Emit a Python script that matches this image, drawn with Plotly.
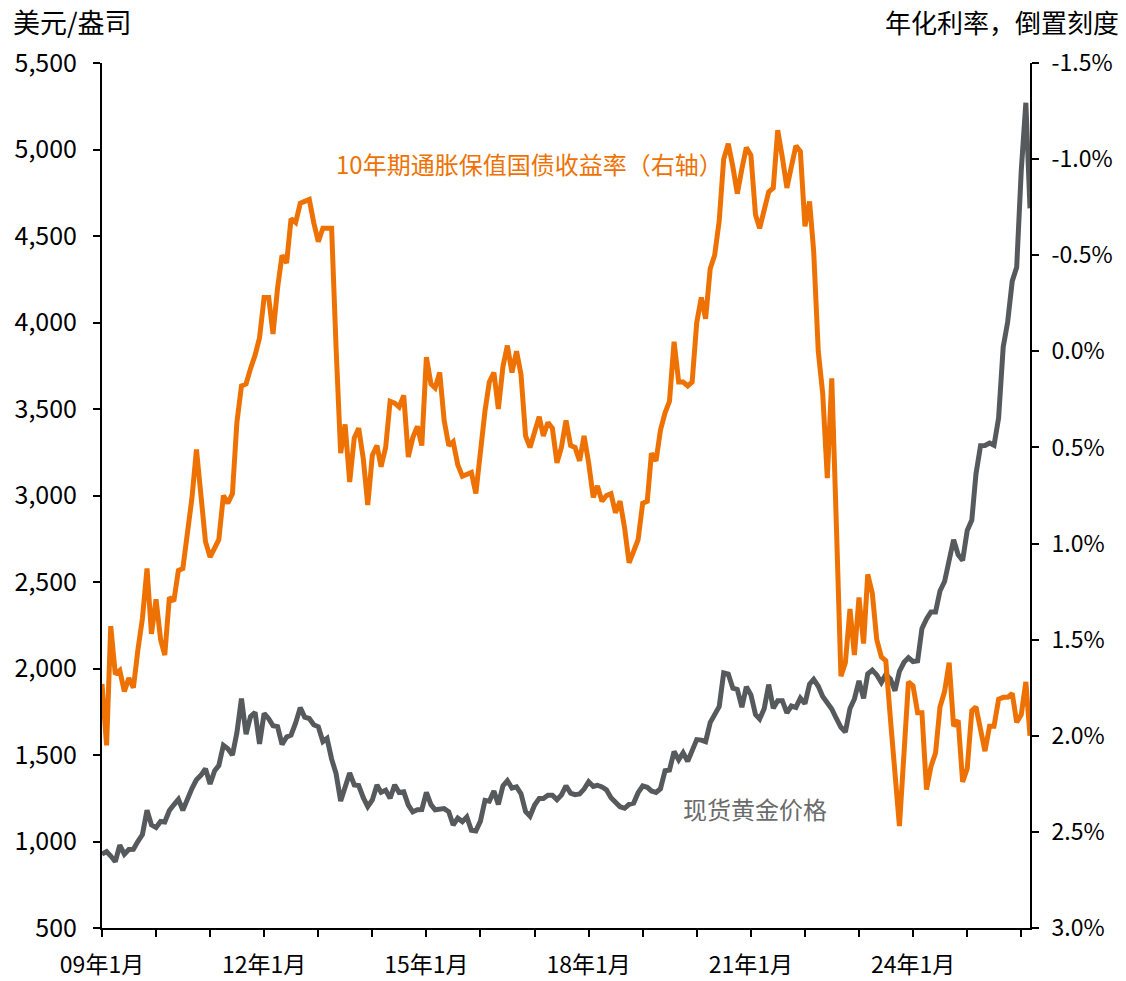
import plotly.graph_objects as go
import pandas as pd

# Spot gold, USD/oz, month-end, Jan 2009 - Mar 2026
gold = [
    927, 942, 916, 884, 979, 927, 954, 955, 1001, 1040, 1181, 1096,      # 2009
    1081, 1116, 1113, 1179, 1212, 1244, 1181, 1247, 1307, 1357, 1384, 1421,  # 2010
    1332, 1409, 1439, 1556, 1536, 1500, 1628, 1826, 1620, 1722, 1746, 1564,  # 2011
    1740, 1710, 1669, 1664, 1561, 1604, 1615, 1685, 1774, 1719, 1711, 1675,  # 2012
    1663, 1578, 1596, 1476, 1393, 1234, 1314, 1396, 1327, 1323, 1253, 1202,  # 2013
    1240, 1326, 1284, 1296, 1250, 1327, 1283, 1287, 1210, 1171, 1183, 1184,  # 2014
    1284, 1213, 1183, 1183, 1190, 1172, 1095, 1135, 1115, 1142, 1065, 1061,  # 2015
    1118, 1238, 1233, 1291, 1214, 1321, 1351, 1309, 1316, 1276, 1173, 1146,  # 2016
    1211, 1249, 1249, 1268, 1268, 1242, 1269, 1322, 1280, 1271, 1275, 1303,  # 2017
    1345, 1318, 1325, 1315, 1299, 1253, 1224, 1201, 1192, 1215, 1222, 1282,  # 2018
    1321, 1313, 1292, 1284, 1305, 1409, 1413, 1520, 1472, 1513, 1463, 1517,  # 2019
    1589, 1586, 1577, 1687, 1730, 1781, 1975, 1968, 1886, 1879, 1776, 1895,  # 2020
    1848, 1734, 1708, 1769, 1907, 1770, 1814, 1814, 1743, 1783, 1775, 1829,  # 2021
    1797, 1909, 1937, 1897, 1838, 1807, 1766, 1711, 1660, 1633, 1769, 1824,  # 2022
    1928, 1827, 1969, 1990, 1963, 1919, 1965, 1940, 1871, 1984, 2036, 2063,  # 2023
    2040, 2044, 2230, 2286, 2327, 2327, 2448, 2503, 2635, 2744, 2657, 2625,  # 2024
    2798, 2858, 3124, 3288, 3289, 3303, 3290, 3448, 3858, 4002, 4239, 4319,  # 2025
    4880, 5270, 4660,                                                      # 2026
]

# 10-year TIPS yield, %, month-end (plotted on inverted right axis)
tips = [
    1.73, 2.05, 1.43, 1.68, 1.66, 1.77, 1.70, 1.75, 1.55, 1.39, 1.13, 1.47,  # 2009
    1.29, 1.50, 1.58, 1.28, 1.30, 1.14, 1.13, 0.93, 0.76, 0.51, 0.76, 0.99,  # 2010
    1.07, 1.02, 0.98, 0.75, 0.79, 0.74, 0.37, 0.18, 0.17, 0.09, 0.02, -0.07,  # 2011
    -0.28, -0.28, -0.09, -0.33, -0.50, -0.46, -0.69, -0.67, -0.77, -0.78, -0.79, -0.67,  # 2012
    -0.57, -0.64, -0.64, -0.64, -0.02, 0.53, 0.38, 0.68, 0.45, 0.40, 0.56, 0.80,  # 2013
    0.54, 0.49, 0.60, 0.50, 0.26, 0.27, 0.29, 0.23, 0.55, 0.45, 0.39, 0.49,  # 2014
    0.03, 0.17, 0.19, 0.11, 0.36, 0.49, 0.47, 0.59, 0.65, 0.64, 0.63, 0.74,  # 2015
    0.51, 0.31, 0.16, 0.11, 0.30, 0.08, -0.03, 0.11, 0.00, 0.12, 0.44, 0.50,  # 2016
    0.42, 0.34, 0.44, 0.37, 0.40, 0.58, 0.50, 0.36, 0.49, 0.50, 0.57, 0.44,  # 2017
    0.58, 0.76, 0.70, 0.78, 0.75, 0.74, 0.84, 0.78, 0.92, 1.10, 1.04, 0.98,  # 2018
    0.79, 0.78, 0.53, 0.57, 0.41, 0.32, 0.26, -0.05, 0.16, 0.16, 0.18, 0.16,  # 2019
    -0.15, -0.28, -0.17, -0.43, -0.50, -0.68, -1.00, -1.08, -0.96, -0.82, -0.95, -1.06,  # 2020
    -1.02, -0.71, -0.64, -0.75, -0.83, -0.85, -1.15, -1.01, -0.85, -0.96, -1.07, -1.04,  # 2021
    -0.65, -0.78, -0.52, 0.00, 0.22, 0.66, 0.14, 0.90, 1.69, 1.62, 1.34, 1.58,  # 2022
    1.28, 1.52, 1.16, 1.26, 1.50, 1.59, 1.61, 1.91, 2.24, 2.47, 2.09, 1.72,  # 2023
    1.74, 1.88, 1.88, 2.28, 2.16, 2.09, 1.85, 1.77, 1.62, 1.95, 1.92, 2.24,  # 2024
    2.17, 1.87, 1.85, 1.97, 2.08, 1.95, 1.95, 1.81, 1.80, 1.80, 1.78, 1.93,  # 2025
    1.89, 1.72, 2.00,                                                          # 2026
]

dates = pd.date_range("2009-01-01", periods=len(gold), freq="MS")

x_tick_years = list(range(2009, 2027))
x_tick_labels = ["09年1月", "", "", "12年1月", "", "", "15年1月", "", "", "18年1月", "", "",
                 "21年1月", "", "", "24年1月", "", ""]
left_ticks = [500, 1000, 1500, 2000, 2500, 3000, 3500, 4000, 4500, 5000, 5500]
right_ticks = [-1.5, -1.0, -0.5, 0.0, 0.5, 1.0, 1.5, 2.0, 2.5, 3.0]
right_labels = ["-1.5%", "-1.0%", "-0.5%", "0.0%", "0.5%", "1.0%", "1.5%", "2.0%", "2.5%", "3.0%"]

FONT = "Noto Sans CJK SC, Noto Sans, sans-serif"
GRAY = "#565A5D"
ORANGE = "#EE7203"

L, R, T, B = 102, 1030, 63, 928
W_PLOT, H_PLOT = R - L, B - T


def px_x(px):
    return (px - L) / W_PLOT


def px_y(py):
    return (B - py) / H_PLOT


fig = go.Figure()
fig.add_trace(go.Scatter(x=dates, y=gold, mode="lines", name="现货黄金价格",
                         line=dict(color=GRAY, width=5), yaxis="y"))
fig.add_trace(go.Scatter(x=dates, y=tips, mode="lines", name="10年期通胀保值国债收益率（右轴）",
                         line=dict(color=ORANGE, width=5), yaxis="y2"))

axis_common = dict(showline=True, linecolor="black", linewidth=2, ticks="outside",
                   ticklen=7, tickwidth=2, tickcolor="black", showgrid=False, zeroline=False,
                   automargin=False)

fig.update_layout(
    width=1126, height=981,
    margin=dict(l=L, r=1126 - R, t=T, b=981 - B, autoexpand=False),
    paper_bgcolor="white", plot_bgcolor="white",
    showlegend=False,
    font=dict(family=FONT, color="black"),
    xaxis=dict(type="date", range=[dates[0], dates[-1]],
               tickvals=[f"{y}-01-01" for y in x_tick_years], ticktext=x_tick_labels,
               ticklabelstandoff=8, tickfont=dict(family=FONT, size=23, color="black"),
               **axis_common),
    yaxis=dict(range=[500, 5500], tickvals=left_ticks, tickformat=",",
               ticklabelstandoff=11, tickfont=dict(family=FONT, size=25, color="black"),
               **axis_common),
    yaxis2=dict(range=[3.0, -1.5], tickvals=right_ticks, ticktext=right_labels,
                overlaying="y", side="right", ticklabelstandoff=8,
                tickfont=dict(family=FONT, size=23, color="black"), **axis_common),
    annotations=[
        dict(text="美元/盎司", xref="paper", yref="paper", x=px_x(11), y=px_y(22),
             xanchor="left", yanchor="middle", showarrow=False,
             font=dict(family=FONT, size=27, color="black")),
        dict(text="年化利率，倒置刻度", xref="paper", yref="paper", x=px_x(1121),
             y=px_y(22), xanchor="right", yanchor="middle", showarrow=False,
             font=dict(family=FONT, size=26, color="black")),
        dict(text="10年期通胀保值国债收益率（右轴）", xref="paper", yref="paper",
             x=px_x(529), y=px_y(163), xanchor="center", yanchor="middle",
             showarrow=False, font=dict(family=FONT, size=24, color=ORANGE)),
        dict(text="现货黄金价格", xref="paper", yref="paper",
             x=px_x(755), y=px_y(808), xanchor="center", yanchor="middle",
             showarrow=False, font=dict(family=FONT, size=24, color="#6B6B6B")),
    ],
)

fig.write_html("out.html", config={"displayModeBar": False},
               post_script="document.body.style.margin='0px';")
